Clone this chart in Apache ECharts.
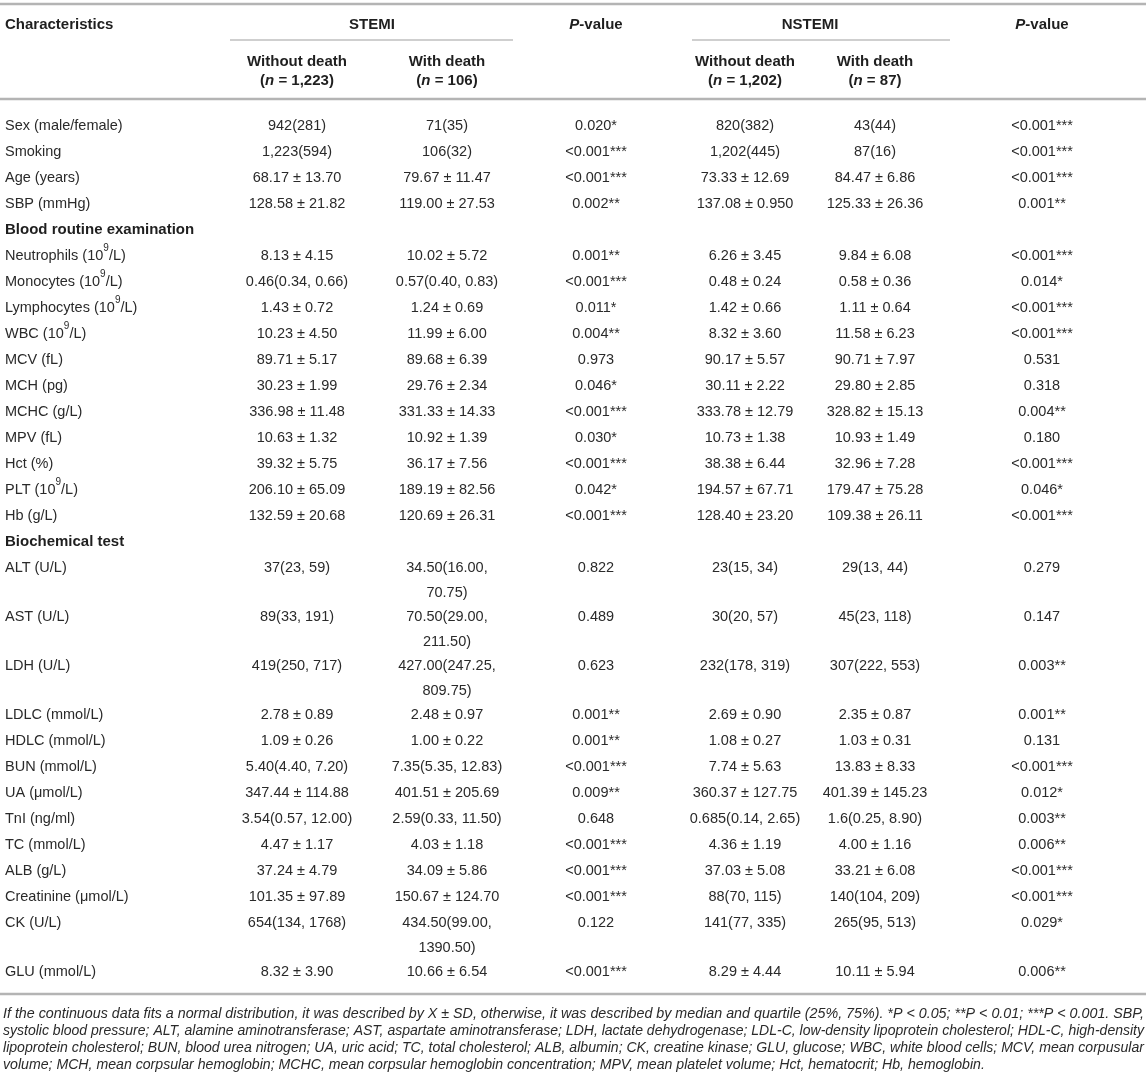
<!DOCTYPE html>
<html>
<head>
<meta charset="utf-8">
<script src="https://cdn.jsdelivr.net/npm/echarts@6/dist/echarts.min.js"></script>
<style>
html, body { margin: 0; padding: 0; background: #fff; }
#main { width: 1146px; height: 1087px; }
</style>
</head>
<body>
<div id="main"></div>
<script>
// table content, one array per column
var characteristics = [
    'Sex (male/female)', 'Smoking', 'Age (years)', 'SBP (mmHg)',
    'Blood routine examination',
    'Neutrophils (10⁹/L)', 'Monocytes (10⁹/L)', 'Lymphocytes (10⁹/L)', 'WBC (10⁹/L)',
    'MCV (fL)', 'MCH (pg)', 'MCHC (g/L)', 'MPV (fL)', 'Hct (%)', 'PLT (10⁹/L)', 'Hb (g/L)',
    'Biochemical test',
    'ALT (U/L)', 'AST (U/L)', 'LDH (U/L)', 'LDLC (mmol/L)', 'HDLC (mmol/L)', 'BUN (mmol/L)',
    'UA (μmol/L)', 'TnI (ng/ml)', 'TC (mmol/L)', 'ALB (g/L)', 'Creatinine (μmol/L)',
    'CK (U/L)', 'GLU (mmol/L)'
];
var sectionRows = [4, 16];

var stemiWithout = [
    '942(281)', '1,223(594)', '68.17 ± 13.70', '128.58 ± 21.82', '',
    '8.13 ± 4.15', '0.46(0.34, 0.66)', '1.43 ± 0.72', '10.23 ± 4.50', '89.71 ± 5.17',
    '30.23 ± 1.99', '336.98 ± 11.48', '10.63 ± 1.32', '39.32 ± 5.75', '206.10 ± 65.09',
    '132.59 ± 20.68', '',
    '37(23, 59)', '89(33, 191)', '419(250, 717)', '2.78 ± 0.89', '1.09 ± 0.26',
    '5.40(4.40, 7.20)', '347.44 ± 114.88', '3.54(0.57, 12.00)', '4.47 ± 1.17', '37.24 ± 4.79',
    '101.35 ± 97.89', '654(134, 1768)', '8.32 ± 3.90'
];
var stemiWith = [
    '71(35)', '106(32)', '79.67 ± 11.47', '119.00 ± 27.53', '',
    '10.02 ± 5.72', '0.57(0.40, 0.83)', '1.24 ± 0.69', '11.99 ± 6.00', '89.68 ± 6.39',
    '29.76 ± 2.34', '331.33 ± 14.33', '10.92 ± 1.39', '36.17 ± 7.56', '189.19 ± 82.56',
    '120.69 ± 26.31', '',
    '34.50(16.00,\n70.75)', '70.50(29.00,\n211.50)', '427.00(247.25,\n809.75)', '2.48 ± 0.97',
    '1.00 ± 0.22', '7.35(5.35, 12.83)', '401.51 ± 205.69', '2.59(0.33, 11.50)', '4.03 ± 1.18',
    '34.09 ± 5.86', '150.67 ± 124.70', '434.50(99.00,\n1390.50)', '10.66 ± 6.54'
];
var stemiP = [
    '0.020*', '<0.001***', '<0.001***', '0.002**', '',
    '0.001**', '<0.001***', '0.011*', '0.004**', '0.973', '0.046*', '<0.001***', '0.030*',
    '<0.001***', '0.042*', '<0.001***', '',
    '0.822', '0.489', '0.623', '0.001**', '0.001**', '<0.001***', '0.009**', '0.648',
    '<0.001***', '<0.001***', '<0.001***', '0.122', '<0.001***'
];
var nstemiWithout = [
    '820(382)', '1,202(445)', '73.33 ± 12.69', '137.08 ± 0.950', '',
    '6.26 ± 3.45', '0.48 ± 0.24', '1.42 ± 0.66', '8.32 ± 3.60', '90.17 ± 5.57',
    '30.11 ± 2.22', '333.78 ± 12.79', '10.73 ± 1.38', '38.38 ± 6.44', '194.57 ± 67.71',
    '128.40 ± 23.20', '',
    '23(15, 34)', '30(20, 57)', '232(178, 319)', '2.69 ± 0.90', '1.08 ± 0.27', '7.74 ± 5.63',
    '360.37 ± 127.75', '0.685(0.14, 2.65)', '4.36 ± 1.19', '37.03 ± 5.08', '88(70, 115)',
    '141(77, 335)', '8.29 ± 4.44'
];
var nstemiWith = [
    '43(44)', '87(16)', '84.47 ± 6.86', '125.33 ± 26.36', '',
    '9.84 ± 6.08', '0.58 ± 0.36', '1.11 ± 0.64', '11.58 ± 6.23', '90.71 ± 7.97',
    '29.80 ± 2.85', '328.82 ± 15.13', '10.93 ± 1.49', '32.96 ± 7.28', '179.47 ± 75.28',
    '109.38 ± 26.11', '',
    '29(13, 44)', '45(23, 118)', '307(222, 553)', '2.35 ± 0.87', '1.03 ± 0.31', '13.83 ± 8.33',
    '401.39 ± 145.23', '1.6(0.25, 8.90)', '4.00 ± 1.16', '33.21 ± 6.08', '140(104, 209)',
    '265(95, 513)', '10.11 ± 5.94'
];
var nstemiP = [
    '<0.001***', '<0.001***', '<0.001***', '0.001**', '',
    '<0.001***', '0.014*', '<0.001***', '<0.001***', '0.531', '0.318', '0.004**', '0.180',
    '<0.001***', '0.046*', '<0.001***', '',
    '0.279', '0.147', '0.003**', '0.001**', '0.131', '<0.001***', '0.012*', '0.003**',
    '0.006**', '<0.001***', '<0.001***', '0.029*', '0.006**'
];

var groupNames = ['STEMI', 'NSTEMI'];
var subHeads = ['Without death', 'With death'];
var groupN = [['1,223', '106'], ['1,202', '87']];

var footnoteLines = [
    'If the continuous data fits a normal distribution, it was described by X ± SD, otherwise, it was described by median and quartile (25%, 75%). *P < 0.05; **P < 0.01; ***P < 0.001. SBP,',
    'systolic blood pressure; ALT, alamine aminotransferase; AST, aspartate aminotransferase; LDH, lactate dehydrogenase; LDL-C, low-density lipoprotein cholesterol; HDL-C, high-density',
    'lipoprotein cholesterol; BUN, blood urea nitrogen; UA, uric acid; TC, total cholesterol; ALB, albumin; CK, creatine kinase; GLU, glucose; WBC, white blood cells; MCV, mean corpusular',
    'volume; MCH, mean corpsular hemoglobin; MCHC, mean corpsular hemoglobin concentration; MPV, mean platelet volume; Hct, hematocrit; Hb, hemoglobin.'
];

// layout
var W = 1146, H = 1087;
var FONT = '"Liberation Sans", Arial, Helvetica, sans-serif';
var colX = [5, 297, 447, 596, 745, 875, 1042];
var columns = [characteristics, stemiWithout, stemiWith, stemiP, nstemiWithout, nstemiWith, nstemiP];

// footnote is set in a condensed italic: squeeze each line to the text width
var NOTE_SIZE = 14.5, NOTE_WIDTH = 1141;
var ctx = document.createElement('canvas').getContext('2d');
ctx.font = 'italic ' + NOTE_SIZE + 'px ' + FONT;
var noteScale = footnoteLines.map(function (t) { return NOTE_WIDTH / ctx.measureText(t).width; });
noteScale[3] = (noteScale[0] + noteScale[1] + noteScale[2]) / 3;

var styles = {
    head:    { size: 15,   weight: 'bold',   italic: false, lh: 19, fill: '#1f1f1f' },
    section: { size: 15,   weight: 'bold',   italic: false, lh: 25, fill: '#1f1f1f' },
    label:   { size: 14.5, weight: 'normal', italic: false, lh: 25, fill: '#2a2a2a' },
    value:   { size: 14.5, weight: 'normal', italic: false, lh: 25, fill: '#2a2a2a' },
    note:    { size: NOTE_SIZE, weight: 'normal', italic: true, lh: 17, fill: '#2a2a2a' }
};

var cells = [];
cells.push({ x: colX[0], y: 25, text: 'Characteristics', kind: 'head', align: 'left' });
groupNames.forEach(function (g, i) {
    var a = colX[1 + 3 * i], b = colX[2 + 3 * i];
    cells.push({ x: (a + b) / 2, y: 25, text: g, kind: 'head' });
    cells.push({ x: colX[3 + 3 * i], y: 25, text: '{i|P}-value', kind: 'head' });
    subHeads.forEach(function (s, j) {
        cells.push({ x: colX[1 + 3 * i + j], y: 62, text: s + '\n({i|n} = ' + groupN[i][j] + ')', kind: 'head' });
    });
});

var rowY = 126;
characteristics.forEach(function (name, r) {
    var lines = 1;
    columns.forEach(function (col) { lines = Math.max(lines, String(col[r]).split('\n').length); });
    columns.forEach(function (col, c) {
        if (!col[r]) return;
        var kind = c === 0 ? (sectionRows.indexOf(r) >= 0 ? 'section' : 'label') : 'value';
        cells.push({ x: colX[c], y: rowY, text: col[r], kind: kind, align: c === 0 ? 'left' : 'center' });
    });
    rowY += 26 + (lines - 1) * 23;
});
var bottomRule = rowY - 4;

footnoteLines.forEach(function (t, k) {
    cells.push({ x: 3, y: bottomRule + 20 + k * 17, text: t, kind: 'note', align: 'left', scaleX: noteScale[k] });
});

var rules = [
    [0, 4, W, 2.5, '#b4b4b4'],
    [230, 40, 513, 1.2, '#a0a0a0'],
    [692, 40, 950, 1.2, '#a0a0a0'],
    [0, 99, W, 2.5, '#b4b4b4'],
    [0, bottomRule, W, 2.5, '#b4b4b4']
];

var chart = echarts.init(document.getElementById('main'));

var option = {
    backgroundColor: '#fff',
    animation: false,
    grid: { left: 0, right: 0, top: 0, bottom: 0 },
    xAxis: { type: 'value', min: 0, max: W, show: false },
    yAxis: { type: 'value', min: 0, max: H, inverse: true, show: false },
    series: [
        {
            type: 'custom',
            silent: true,
            clip: false,
            data: rules.map(function (r, i) { return [r[0], r[1], r[2], i]; }),
            renderItem: function (params, api) {
                var r = rules[api.value(3)];
                var p1 = api.coord([api.value(0), api.value(1)]);
                var p2 = api.coord([api.value(2), api.value(1)]);
                return {
                    type: 'line',
                    shape: { x1: p1[0], y1: p1[1], x2: p2[0], y2: p2[1] },
                    style: { stroke: r[4], lineWidth: r[3] }
                };
            }
        },
        {
            type: 'custom',
            silent: true,
            clip: false,
            data: cells.map(function (c, i) { return [c.x, c.y, i]; }),
            renderItem: function (params, api) {
                var c = cells[api.value(2)];
                var st = styles[c.kind];
                var p = api.coord([api.value(0), api.value(1)]);
                return {
                    type: 'text',
                    x: p[0],
                    y: p[1] - st.lh / 2,
                    scaleX: c.scaleX || 1,
                    style: {
                        text: c.text.replace(/⁹/g, '{s|9}'),
                        fill: st.fill,
                        fontSize: st.size,
                        fontFamily: FONT,
                        fontWeight: st.weight,
                        fontStyle: st.italic ? 'italic' : 'normal',
                        lineHeight: st.lh,
                        align: c.align || 'center',
                        verticalAlign: 'top',
                        rich: {
                            i: {
                                fontStyle: 'italic',
                                fontWeight: st.weight,
                                fontSize: st.size,
                                fontFamily: FONT,
                                fill: st.fill,
                                lineHeight: st.lh
                            },
                            s: {
                                fontSize: 10,
                                fontFamily: FONT,
                                fill: st.fill,
                                lineHeight: 16,
                                verticalAlign: 'top'
                            }
                        }
                    }
                };
            }
        }
    ]
};

chart.setOption(option);
</script>
</body>
</html>
